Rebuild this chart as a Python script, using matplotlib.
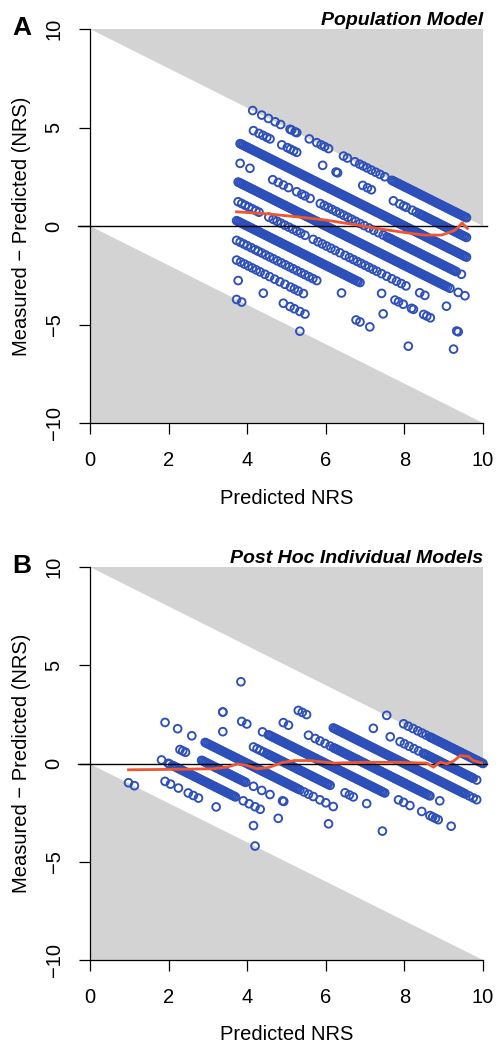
import numpy as np
import matplotlib
matplotlib.use('Agg')
import matplotlib.pyplot as plt

plt.rcParams['font.family'] = ['Liberation Sans', 'DejaVu Sans']

# measured NRS is an integer score; predicted NRS values read per measured level
levels = [10, 9, 8, 7, 6, 5, 4, 3, 2, 1, 0]

# --- panel A: population model, predicted NRS per measured level
pop_m10 = ("4.14 4.37 4.54 4.71 4.85 5.09 5.13 5.22 5.26 5.58 5.77 5.88 5.97 6.07 6.45 6.55 6.74 6.86 6.95 7.05 7.16 7.27 7.38 7.5 "
	"7.68 7.76 7.84 7.92 8.0 8.08 8.16 8.24 8.32 8.4 8.48 8.56 8.64 8.72 8.8 8.88 8.96 9.04 9.12 9.2 9.28 9.36 9.44 9.52 9.58 "
	"7.72 7.8 7.88 7.96 8.04 8.12 8.2 8.28 8.36 8.44 8.52 8.6 8.68 8.76 8.84 8.92 9.0 9.08 9.16 9.24 9.32 9.4 9.48 9.56")
pop_m9 = ("4.16 4.3 4.4 4.5 4.58 4.88 5.02 5.1 5.18 5.26 5.92 6.26 6.3 6.94 7.06 7.16 7.72 7.88 7.98 8.05 8.2 8.3 "
	"8.38 8.46 8.54 8.62 8.7 8.78 8.86 8.94 9.02 9.1 9.18 9.26 9.34 9.42 9.5 9.58 "
	"8.42 8.5 8.58 8.66 8.74 8.82 8.9 8.98 9.06 9.14 9.22 9.3 9.38 9.46 9.54")
pop_m8 = ("3.82 3.9 3.98 4.06 4.14 4.22 4.3 4.38 4.46 4.54 4.62 4.7 4.78 4.86 4.94 5.02 5.1 5.18 5.26 5.34 5.42 5.5 5.58 5.66 5.74 5.82 5.9 5.98 "
	"6.06 6.14 6.22 6.3 6.38 6.46 6.54 6.62 6.7 6.78 6.86 6.94 7.02 7.1 7.18 7.26 7.34 7.42 7.5 7.58 7.66 7.74 7.82 7.9 7.98 8.06 8.14 "
	"8.22 8.3 8.38 8.46 8.54 8.62 8.7 8.78 8.86 8.94 9.02 9.1 9.18 9.26 9.34 9.42 9.5 9.58 "
	"3.86 3.94 4.02 4.1 4.18 4.26 4.34 4.42 4.5 4.58 4.66 4.74 4.82 4.9 4.98 5.06 5.14 5.22 5.3 5.38 5.46 5.54 5.62 5.7 5.78 5.86 5.94 "
	"6.02 6.1 6.18 6.26 6.34 6.42 6.5 6.58 6.66 6.74 6.82 6.9 6.98 7.06 7.14 7.22 7.3 7.38 7.46 7.54 7.62 7.7 7.78 7.86 7.94 8.02 8.1 "
	"8.18 8.26 8.34 8.42 8.5 8.58 8.66 8.74 8.82 8.9 8.98 9.06 9.14 9.22 9.3 9.38 9.46 9.54")
pop_m7 = ("3.82 4.07 4.65 4.79 4.92 5.05 5.26 5.39 5.47 5.6 5.86 5.96 6.06 6.16 6.26 6.36 6.46 6.56 6.66 6.76 6.87 6.98 7.1 7.22 7.34 7.46 "
	"7.56 7.64 7.72 7.8 7.88 7.96 8.04 8.12 8.2 8.28 8.36 8.44 8.52 8.6 8.68 8.76 8.84 8.92 9.0 9.08 9.16 9.24 9.32 9.45 "
	"7.6 7.68 7.76 7.84 7.92 8.0 8.08 8.16 8.24 8.32 8.4 8.48 8.56 8.64 8.72 8.8 8.88 8.96 9.04 9.12 9.2 9.28")
pop_m6 = ("3.77 3.85 3.93 4.01 4.09 4.17 4.25 4.33 4.41 4.49 4.57 4.65 4.73 4.81 4.89 4.97 5.05 5.13 5.21 5.29 5.37 5.45 5.53 5.61 5.69 5.77 "
	"5.85 5.93 6.01 6.09 6.17 6.25 6.33 6.41 6.49 6.57 6.65 6.73 6.81 6.89 6.97 7.05 7.13 7.21 7.29 7.37 7.45 7.53 7.61 7.69 7.77 7.85 "
	"7.93 8.01 8.09 8.17 8.25 8.33 8.41 8.49 8.57 8.65 8.73 8.81 8.89 8.97 9.05 9.16 9.37 9.54 "
	"3.81 3.89 3.97 4.05 4.13 4.21 4.29 4.37 4.45 4.53 4.61 4.69 4.77 4.85 4.93 5.01 5.09 5.17 5.25 5.33 5.41 5.49 5.57 5.65 5.73 5.81 "
	"5.89 5.97 6.05 6.13 6.21 6.29 6.37 6.45 6.53 6.61 6.69 6.77 6.85 6.93 7.01 7.09 7.17 7.25 7.33 7.41 7.49 7.57 7.65 7.73 7.81 7.89 "
	"7.97 8.05 8.13 8.21 8.29 8.37 8.45 8.53 8.61 8.69 8.77 8.85 8.93 9.01 9.1")
pop_m5 = ("3.77 3.86 3.95 4.04 4.13 4.22 4.3 4.55 4.66 4.76 4.86 4.96 5.06 5.16 5.26 5.36 5.47 5.68 5.8 5.91 6.02 6.13 6.24 6.36 "
	"6.49 6.6 6.7 6.8 6.9 7.0 7.1 7.2 7.3 7.42 7.55 7.68 7.8 7.92 8.04 8.39 8.52 9.07")
pop_m4 = ("3.73 3.81 3.89 3.97 4.05 4.13 4.21 4.29 4.37 4.45 4.53 4.61 4.69 4.77 4.85 4.93 5.01 5.09 5.17 5.25 5.33 5.41 5.49 5.57 5.65 "
	"5.73 5.81 5.89 5.97 6.05 6.13 6.21 6.29 6.37 6.45 6.53 6.61 6.69 6.78 6.87 7.42 7.76 7.85 7.97 8.18 8.23 8.49 8.57 8.66 9.33 9.37 "
	"3.77 3.85 3.93 4.01 4.09 4.17 4.25 4.33 4.41 4.49 4.57 4.65 4.73 4.81 4.89 4.97 5.05 5.13 5.21 5.29 5.37 5.45 5.53 5.61 5.69 "
	"5.77 5.85 5.93 6.01 6.09 6.17 6.25 6.33 6.41 6.49 6.57 6.65 6.73 6.82")
pop_m3 = "3.73 3.82 3.91 4.0 4.1 4.2 4.28 4.37 4.47 4.57 4.67 4.77 4.87 4.97 5.07 5.17 5.27 5.37 5.47 5.57 5.67 5.77 6.4 7.46 9.25"
pop_m2 = "3.73 3.83 3.93 4.03 4.13 4.23 4.33 4.45 4.57 4.7 4.83 4.96 5.1 5.2 5.3 5.43 6.77 6.87 7.12 8.1"
pop_m1 = "3.77 4.41 4.92 5.09 5.2 5.34 5.47"
pop_m0 = "3.73 3.86 5.34"

# smoothed residual (red line), panel A
pop_smooth_x = [3.73, 4.5, 5.3, 6.0, 6.7, 7.4, 8.0, 8.5, 8.95, 9.28, 9.4, 9.47, 9.54, 9.6]
pop_smooth_y = [0.72, 0.62, 0.46, 0.3, 0.08, -0.15, -0.33, -0.46, -0.46, -0.22, 0.0, 0.16, 0.0, -0.12]

# --- panel B: post hoc individual models
ind_m10 = ("7.55 7.98 8.1 8.22 8.34 8.45 8.55 8.65 8.72 8.8 8.88 8.96 9.04 9.12 9.2 9.28 9.36 9.44 9.52 9.6 9.68 9.76 9.84 9.92 10.0 "
	"8.68 8.76 8.84 8.92 9.0 9.08 9.16 9.24 9.32 9.4 9.48 9.56 9.64 9.72 9.8 9.88 9.96")
ind_m9 = ("7.21 7.64 7.89 8.0 8.12 8.24 8.36 8.48 8.56 8.64 8.72 8.8 8.88 8.96 9.04 9.12 9.2 9.28 9.36 9.44 9.52 9.6 9.68 9.75 9.84 "
	"8.52 8.6 8.68 8.76 8.84 8.92 9.0 9.08 9.16 9.24 9.32 9.4 9.48 9.56 9.64 9.72")
ind_m8 = ("3.84 5.3 5.4 5.51 6.19 6.27 6.35 6.43 6.51 6.59 6.67 6.75 6.83 6.91 6.99 7.07 7.15 7.23 7.31 7.39 7.47 7.55 7.63 7.71 7.79 7.87 "
	"7.95 8.03 8.11 8.19 8.27 8.35 8.43 8.51 8.59 8.67 8.75 8.83 8.91 8.99 9.07 9.15 9.23 9.31 9.39 9.47 9.55 9.65 9.75 9.84 "
	"6.23 6.31 6.39 6.47 6.55 6.63 6.71 6.79 6.87 6.95 7.03 7.11 7.19 7.27 7.35 7.43 7.51 7.59 7.67 7.75 7.83 7.91 7.99 8.07 8.15 "
	"8.23 8.31 8.39 8.47 8.55 8.63 8.71 8.79 8.87 8.95 9.03 9.11 9.19 9.27 9.35 9.43 9.51")
ind_m7 = ("4.92 5.05 5.56 5.73 5.85 5.98 6.11 6.2 6.28 6.36 6.44 6.52 6.6 6.68 6.76 6.84 6.92 7.0 7.08 7.16 7.24 7.32 7.4 7.48 7.56 7.64 "
	"7.72 7.8 7.88 7.96 8.04 8.12 8.2 8.28 8.36 8.44 8.52 8.61 8.65 8.9 "
	"6.24 6.32 6.4 6.48 6.56 6.64 6.72 6.8 6.88 6.96 7.04 7.12 7.2 7.28 7.36 7.44 7.52 7.6 7.68 7.76 7.84 7.92 8.0 8.08 8.16 8.24 "
	"8.32 8.4 8.48 8.56")
ind_m6 = ("3.38 3.38 3.86 3.99 4.39 4.54 4.62 4.7 4.78 4.86 4.94 5.02 5.1 5.18 5.26 5.34 5.42 5.5 5.58 5.66 5.74 5.82 5.9 5.98 6.06 6.14 "
	"6.22 6.3 6.38 6.46 6.54 6.62 6.7 6.78 6.86 6.94 7.02 7.1 7.18 7.26 7.34 7.42 7.5 7.85 7.98 8.14 8.44 8.65 8.72 8.79 8.86 9.19 "
	"4.58 4.66 4.74 4.82 4.9 4.98 5.06 5.14 5.22 5.3 5.38 5.46 5.54 5.62 5.7 5.78 5.86 5.94 6.02 6.1 6.18 6.26 6.34 6.42 6.5 6.58 "
	"6.66 6.74 6.82 6.9 6.98 7.06 7.14 7.22 7.3 7.38 7.46")
ind_m5 = ("3.38 4.16 4.25 4.33 4.42 4.5 4.58 4.66 4.74 4.82 4.9 4.98 5.06 5.14 5.22 5.3 5.38 5.46 5.54 5.62 5.7 5.78 5.86 5.94 6.02 6.11 "
	"6.49 6.6 6.7 7.04 "
	"4.54 4.62 4.7 4.78 4.86 4.94 5.02 5.1 5.18 5.26 5.34 5.42 5.5 5.58 5.66 5.74 5.82 5.9 5.98 6.06")
ind_m4 = ("1.91 2.23 2.59 2.93 3.01 3.09 3.17 3.25 3.33 3.41 3.49 3.57 3.65 3.73 3.81 3.89 3.97 4.05 4.13 4.21 4.29 4.37 4.45 4.53 4.61 "
	"4.69 4.77 4.85 4.93 5.01 5.09 5.17 5.25 5.34 5.45 5.56 5.68 5.85 6.0 6.19 7.44 "
	"2.97 3.05 3.13 3.21 3.29 3.37 3.45 3.53 3.61 3.69 3.77 3.85 3.93 4.01 4.09 4.17 4.25 4.33 4.41 4.49 4.57 4.65 4.73 4.81 4.89 "
	"4.97 5.05 5.13 5.21 5.29")
ind_m3 = ("2.29 2.36 2.43 2.84 2.92 3.0 3.08 3.16 3.24 3.32 3.4 3.48 3.56 3.64 3.72 3.8 3.88 3.96 4.16 4.37 4.58 4.9 4.93 6.07 "
	"2.88 2.96 3.04 3.12 3.2 3.28 3.36 3.44 3.52 3.6 3.68 3.76 3.84 3.92")
ind_m2 = ("1.82 1.99 2.02 2.1 2.18 2.26 2.34 2.42 2.5 2.58 2.66 2.74 2.82 2.9 2.98 3.06 3.14 3.22 3.3 3.38 3.46 3.54 3.62 3.7 "
	"3.9 4.05 4.2 4.33 4.79 "
	"2.14 2.22 2.3 2.38 2.46 2.54 2.62 2.7 2.78 2.86 2.94 3.02 3.1 3.18 3.26 3.34 3.42 3.5 3.58 3.66")
ind_m1 = "1.91 2.05 2.25 2.5 2.63 2.76 3.21 4.16"
ind_m0 = "0.98 1.13 4.2"

ind_smooth_x = [0.98, 2.0, 3.14, 3.5, 3.75, 4.0, 4.25, 4.55, 4.9, 5.2, 5.6, 5.9, 6.2, 7.0, 7.8, 8.57, 8.74, 8.91, 9.08, 9.25, 9.42, 9.63, 9.75, 10.0]
ind_smooth_y = [-0.32, -0.3, -0.27, -0.18, -0.02, -0.1, -0.27, -0.2, 0.05, 0.15, 0.15, 0.08, 0.02, 0.06, 0.06, 0.02, -0.19, 0.07, -0.02, 0.12, 0.4, 0.36, 0.15, 0.02]

x_ticks = [0, 2, 4, 6, 8, 10]
y_ticks = [-10, -5, 0, 5, 10]

BLUE = '#2c4fba'
RED = '#ef5530'
GRAY = '#d3d3d3'


def stack(strs):
	pred, meas = [], []
	for lev, s in zip(levels, strs):
		v = np.array(s.split(), dtype=float)
		pred.append(v)
		meas.append(np.full(v.shape, lev))
	pred = np.concatenate(pred)
	meas = np.concatenate(meas)
	return pred, meas - pred


panels = [
	('A', 'Population Model',
	 [pop_m10, pop_m9, pop_m8, pop_m7, pop_m6, pop_m5, pop_m4, pop_m3, pop_m2, pop_m1, pop_m0],
	 pop_smooth_x, pop_smooth_y, 29, 423),
	('B', 'Post Hoc Individual Models',
	 [ind_m10, ind_m9, ind_m8, ind_m7, ind_m6, ind_m5, ind_m4, ind_m3, ind_m2, ind_m1, ind_m0],
	 ind_smooth_x, ind_smooth_y, 567, 960),
]

W, H = 496, 1045
fig = plt.figure(figsize=(W/100, H/100), dpi=100)

for letter, title, strs, sx, sy, top, bot in panels:
	x0, x1 = 90, 483
	ax = fig.add_axes([x0/W, 1-bot/H, (x1-x0)/W, (bot-top)/H])
	ax.set_xlim(0, 10)
	ax.set_ylim(-10, 10)

	ax.fill([0, 10, 10], [10, 10, 0], color=GRAY, lw=0, zorder=0)
	ax.fill([0, 0, 10], [0, -10, -10], color=GRAY, lw=0, zorder=0)

	pred, resid = stack(strs)
	ax.scatter(pred, resid, s=31, facecolors='none', edgecolors=BLUE, linewidths=1.35, zorder=2, clip_on=False)
	ax.plot([-0.3, 10.1], [0, 0], color='black', lw=1.0, zorder=3, clip_on=False)
	ax.plot(sx, sy, color=RED, lw=2.0, zorder=4)

	for side in ['top', 'right']:
		ax.spines[side].set_visible(False)
	for side in ['left', 'bottom']:
		ax.spines[side].set_linewidth(0.9)
	ax.set_xticks(x_ticks)
	ax.set_yticks(y_ticks)
	ax.set_yticklabels([str(t).replace('-', '\u2212') for t in y_ticks])
	ax.tick_params(direction='out', length=8, width=0.9, labelsize=14.5)
	ax.tick_params(axis='x', pad=12)
	ax.tick_params(axis='y', pad=11, labelrotation=90)
	for lab in ax.get_yticklabels():
		lab.set_verticalalignment('center')

	hpx = bot - top
	ax.set_xlabel('Predicted NRS', fontsize=14.5)
	ax.xaxis.set_label_coords(0.5, -75/hpx)
	ax.xaxis.label.set_verticalalignment('center')
	ax.set_ylabel('Measured \u2212 Predicted (NRS)', fontsize=14.5)
	ax.yaxis.set_label_coords(-68/393, 0.5)
	ax.yaxis.label.set_verticalalignment('center')

	ax.annotate(title, xy=(1, 1), xycoords='axes fraction', xytext=(0, 4),
				textcoords='offset pixels', ha='right', va='baseline',
				fontsize=14, fontweight='bold', fontstyle='italic')
	fig.text(12/W, 1-(top+6)/H, letter, ha='left', va='baseline', fontsize=19, fontweight='bold')

fig.savefig('out.png', dpi=100, facecolor='white')
